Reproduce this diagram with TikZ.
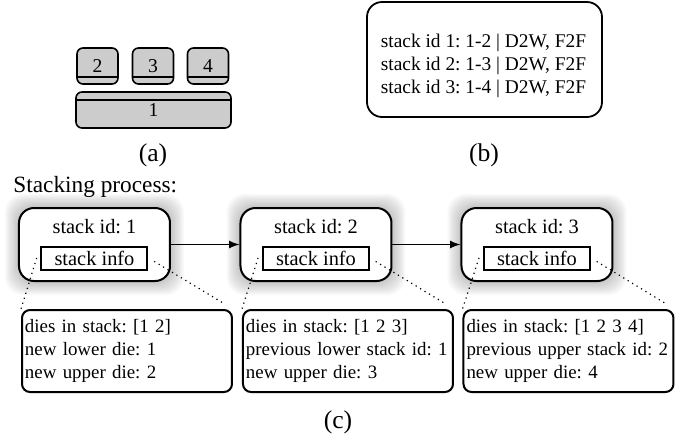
\documentclass[tikz,border=0pt]{standalone}
\usepackage{fontspec}
\setmainfont{Liberation Serif}
\usetikzlibrary{positioning,backgrounds}
\frenchspacing

\begin{document}
\begin{tikzpicture}[x=0.5pt,y=-0.5pt,
					>=latex,
					die/.style={draw,line width=0.8pt,fill=black!20,rounded corners=3pt,
						inner sep=0pt,font=\fontsize{9.8}{11}\selectfont},
					die top/.style={die,minimum width=20.5pt,minimum height=18pt,
						path picture={\draw[line width=0.7pt] ([yshift=3.6pt]path picture bounding box.south west)
							-- ([yshift=3.6pt]path picture bounding box.south east);}},
					die base/.style={die,minimum width=77.5pt,minimum height=18pt,
						path picture={\draw[line width=0.7pt] ([yshift=-4pt]path picture bounding box.north west)
							-- ([yshift=-4pt]path picture bounding box.north east);}},
					caption node/.style={font=\fontsize{12.8}{15}\selectfont},
					summary box/.style={draw,line width=0.9pt,rounded corners=7.5pt,
						minimum width=117.5pt,minimum height=57.5pt},
					summary text/.style={align=left,inner sep=0pt,font=\fontsize{9.7}{11.6}\selectfont},
					stage node/.style={draw,fill=white,line width=1pt,rounded corners=7.5pt,
						minimum width=75.5pt,minimum height=36.5pt},
					id node/.style={inner sep=0pt,font=\fontsize{10.2}{12}\selectfont},
					info node/.style={draw,line width=1pt,minimum width=53pt,minimum height=11.5pt,
						inner sep=0pt,font=\fontsize{10.2}{12}\selectfont},
					detail node/.style={draw,line width=1pt,rounded corners=4pt,text width=102pt,
						align=left,inner xsep=1.5pt,inner ysep=0pt,minimum height=41pt,
						font=\fontsize{9.45}{11.5}\selectfont},
					zoom line/.style={dotted,line width=0.6pt}]

  \useasboundingbox (0,0) rectangle (693,441);

  % (a) the dies
  \node[die top] (die2) at (97.5,66) {2};
  \node[die top] (die3) at (153,66) {3};
  \node[die top] (die4) at (208,66) {4};
  \node[die base] (die1) at (153.5,110) {1};
  \node[caption node] (capa) at (153,155) {(a)};

  % (b) the stack list
  \node[summary box] (sum) at (484.5,59.5) {};
  \node[summary text] (sumtext) at (483.5,66)
    {stack id 1: 1-2 | D2W, F2F\\stack id 2: 1-3 | D2W, F2F\\stack id 3: 1-4 | D2W, F2F};
  \node[caption node] (capb) at (484,155) {(b)};

  % (c) the stacking process
  \node[font=\fontsize{11.65}{14}\selectfont,anchor=west,inner sep=0pt] (proc) at (13,187) {Stacking process:};

  \node[stage node] (s1) at (94.5,244.5) {};
  \node[stage node] (s2) at (316,244.5) {};
  \node[stage node] (s3) at (537,244.5) {};

  \foreach \i in {1,2,3} {
    \node[id node] (id\i) at ([yshift=-10pt]s\i.north) {stack id: \i};
    \node[info node] (info\i) at ([yshift=-6.75pt]s\i.center) {stack info};
  }

  \node[detail node] (det1) at (127,351)
    {dies in stack: [1 2]\\new lower die: 1\\new upper die: 2};
  \node[detail node] (det2) at (348,351)
    {dies in stack: [1 2 3]\\previous lower stack id: 1\\new upper die: 3};
  \node[detail node] (det3) at (568.5,351)
    {dies in stack: [1 2 3 4]\\previous upper stack id: 2\\new upper die: 4};

  \draw[->,line width=0.8pt] (s1) -- (s2);
  \draw[->,line width=0.8pt] (s2) -- (s3);

  \foreach \i in {1,2,3} {
    \draw[zoom line,shorten <=6.5pt] (info\i.north west) -- (det\i.north west);
    \draw[zoom line,shorten <=3.3pt,shorten >=6pt] (info\i.east) -- (det\i.north east);
  }

  \node[caption node] (capc) at (338,422) {(c)};

  % glow behind the stages
  \begin{pgfonlayer}{background}
    \foreach \i in {1,2,3}
      \foreach \k in {1,...,10}
        \fill[black,opacity=0.022,rounded corners=9pt]
          ([xshift=-\k*0.65pt,yshift=-\k*0.65pt]s\i.south west)
          rectangle ([xshift=\k*0.65pt,yshift=\k*0.65pt]s\i.north east);
  \end{pgfonlayer}
\end{tikzpicture}
\end{document}
